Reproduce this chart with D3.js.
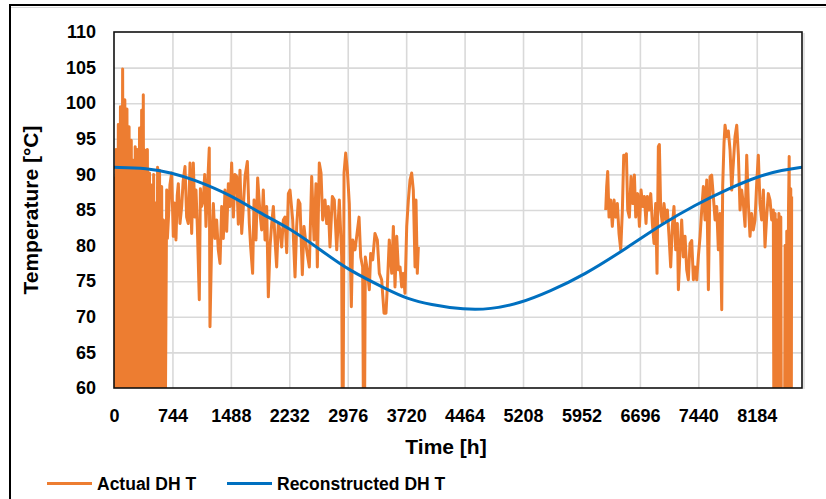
<!DOCTYPE html>
<html>
<head>
<meta charset="utf-8">
<script src="https://cdn.jsdelivr.net/npm/d3@7"></script>
<style>
  html, body { margin: 0; padding: 0; background: #fff; }
  svg { display: block; }
  text { font-family: "Liberation Sans", Arial, sans-serif; font-weight: bold; fill: #000; }
</style>
</head>
<body>
<svg id="chart" width="826" height="499"></svg>
<script>
// ---------------- DATA ----------------
const xTicks = [0, 744, 1488, 2232, 2976, 3720, 4464, 5208, 5952, 6696, 7440, 8184];
const yTicks = [60, 65, 70, 75, 80, 85, 90, 95, 100, 105, 110];
const xDomain = [0, 8760];
const yDomain = [60, 110];
const seriesNames = ["Actual DH T", "Reconstructed DH T"];

// Actual district-heating temperature [hour, °C]; values below 60 are off-scale drops, null = no data
const actualDH = [
  [0,89.7],[14,40],[28,93.5],[41,40],[55,97],[68,40],[82,99.5],[96,40],[110,104.8],[124,40],
  [138,100.5],[151,40],[165,99.2],[178,40],[192,96.7],[206,40],[220,94.8],[233,40],[246,92],[258,40],
  [270,93.9],[283,40],[297,93.5],[311,40],[325,96.5],[338,40],[352,99],[362,40],[373,101.2],[385,40],
  [398,93.4],[411,40],[425,93.5],[438,40],[452,90.2],[466,40],[480,88.5],[492,40],[505,90],[517,40],
  [530,86],[542,40],[555,91],[567,40],[580,90.6],[593,40],[607,88.3],[618,40],[630,83.6],[645,40],
  [671,87.8],[680,81],[692,83.6],[712,88.5],[734,90.2],[755,81.3],[770,86],[789,80.8],[805,87],[819,88.7],
  [840,83.1],[862,85.5],[880,89],[904,91.1],[925,84],[946,83.1],[968,91.6],[989,81.7],[1010,91.6],
  [1030,84],[1044,87.8],[1061,82.7],[1086,72.4],[1100,88],[1116,85.5],[1137,86.4],[1155,90],[1171,82.7],
  [1190,88],[1213,93.7],[1222,68.6],[1244,80.8],[1265,85.9],[1285,81],[1307,83.6],[1328,79.4],
  [1350,77.5],[1371,85.5],[1392,81],[1413,87.8],[1435,82],[1456,88.7],[1477,85.5],[1498,91.6],
  [1520,84],[1540,90],[1562,89.7],[1583,83],[1604,90.6],
  [1626,81.7],[1647,85.5],[1668,89.7],[1698,91.8],[1723,83.1],[1740,79.8],[1765,76.1],[1783,86.4],
  [1808,80.8],[1829,89.5],[1859,84.5],[1880,82.2],[1901,87.8],[1923,80.8],[1944,85.5],[1965,72.8],
  [1986,79.8],[2008,83.1],[2029,85.5],[2050,80.8],[2071,77],[2092,83.1],[2114,82.2],[2135,79.8],
  [2156,83.6],[2177,84],[2199,79],[2220,87.3],[2241,87.8],[2275,83.6],[2305,75.6],[2326,82.7],
  [2347,86.4],[2368,85.9],[2398,75.9],[2419,82.7],[2453,79.4],[2487,77],[2517,89.7],[2547,80.8],
  [2572,88.7],[2589,77],[2614,91.6],[2636,90.2],[2657,83.6],[2687,86.4],[2708,83.1],[2729,85.5],
  [2750,79.8],[2780,86.9],[2805,86.4],[2836,79.4],[2869,86.4],[2899,78.4],[2912,40],[2929,90.2],
  [2950,93],[2971,90.6],[2996,85.9],[3022,71.4],[3039,80.8],[3069,79.4],[3090,81.3],[3120,84],
  [3141,78.4],[3166,77],[3183,40],[3200,78.4],[3225,76.6],[3251,73.8],[3268,78.9],[3294,78],
  [3323,81.7],[3353,80.8],[3378,76.1],[3408,75.2],[3438,70.5],[3463,70.5],[3480,74.2],[3505,80.8],
  [3536,76.1],[3557,82.7],[3578,74.2],[3600,81.3],[3621,76.6],[3642,77],[3663,74.2],[3684,76.1],
  [3705,73.3],[3727,82.7],[3748,86.4],[3769,89.2],[3790,90.2],[3811,87.8],[3833,77],[3845,86.4],
  [3862,76.1],[3875,79.8],
  [3900,null],
  [6261,85],[6273,88.3],[6286,90.4],[6303,84],[6324,86.4],[6345,82.7],[6367,86.4],[6388,84],
  [6409,85.9],[6430,81.7],[6452,79.4],[6473,85],[6490,92.7],[6507,92.5],[6524,92.9],[6541,85],
  [6562,84],[6583,89.7],[6605,85.9],[6626,89.9],[6643,84],[6668,87.3],[6690,82.7],[6711,87.8],
  [6732,85.5],[6753,86.9],[6774,83.1],[6791,86.9],[6812,85],[6834,87.3],[6855,83.1],[6876,80.3],
  [6897,85.9],[6914,76.1],[6931,93.9],[6944,94.2],[6961,85],[6982,83.1],[7003,85.9],[7025,83.6],
  [7046,85],[7067,81.3],[7088,77],[7109,82.7],[7130,85.5],[7152,79.4],[7173,83.1],[7186,73.8],
  [7207,79.4],[7228,83.6],[7249,78.4],[7271,81.3],[7292,76.6],[7313,75.2],[7334,80.3],[7356,80.7],
  [7377,75.2],[7398,77],[7419,75.2],[7440,78.4],[7462,81.3],[7483,85],[7504,88.3],[7525,83.6],
  [7547,89.2],[7568,73.8],[7589,89.7],[7610,89.9],[7631,86.9],[7653,83.6],[7674,85.5],[7695,79.4],
  [7716,84.5],[7738,71],[7750,88.3],[7767,94.4],[7780,96.9],[7801,95.3],[7822,96.1],[7844,93.4],
  [7865,87.8],[7886,91.6],[7907,95.3],[7929,96.9],[7950,92.7],[7971,85],[7992,87.8],[8013,85.9],
  [8035,82.7],[8056,92.7],[8077,85.9],[8098,81.3],[8119,84.5],[8140,82.2],[8162,83.6],[8183,88.7],
  [8204,92.7],[8225,85.9],[8246,83.6],[8268,87.8],[8289,79.8],[8310,84],[8331,87.3],[8353,86.4],
  [8374,83.6],[8395,85],[8405,40],[8418,84.5],[8430,40],[8442,83.6],[8454,40],[8466,84.5],[8478,40],
  [8490,84],[8500,40],[8535,40],[8545,80],[8555,40],[8566,82],[8576,40],[8588,85],[8597,92.5],
  [8606,40],[8617,88],[8622,40],[8628,86.9]
];

// Reconstructed district-heating temperature [hour, °C]
const reconstructedDH = [
  [0,91.0],[420,90.9],[744,90.2],[1010,89.3],[1488,87.1],[1850,84.6],[2232,82.5],[2656,79.2],
  [2976,76.6],[3505,73.7],[3720,72.6],[4024,71.7],[4464,71.0],[4788,71.05],[5170,71.9],[5552,73.6],
  [5977,75.8],[6549,79.8],[6974,83.0],[7398,85.7],[7822,88.0],[8246,89.9],[8500,90.6],[8760,91.0]
];

// ---------------- CHART ----------------
const svg = d3.select("#chart");
const W = 826, H = 499;
const plot = { left: 114, right: 802, top: 32, bottom: 388 };
const colors = { actual: "#ED7D31", recon: "#0070C0", grid: "#D9D9D9" };

svg.append("rect").attr("width", W).attr("height", H).attr("fill", "#fff");

// outer chart frame
svg.append("line").attr("x1", 10).attr("x2", W).attr("y1", 7.5).attr("y2", 7.5)
  .attr("stroke", "#d8d8d8").attr("stroke-width", 1);
svg.append("line").attr("x1", 9).attr("x2", W).attr("y1", 5).attr("y2", 5)
  .attr("stroke", "#000").attr("stroke-width", 2);
svg.append("line").attr("x1", 10).attr("x2", 10).attr("y1", 4).attr("y2", H)
  .attr("stroke", "#000").attr("stroke-width", 2);

const x = d3.scaleLinear().domain(xDomain).range([plot.left, plot.right]);
const y = d3.scaleLinear().domain(yDomain).range([plot.bottom, plot.top]);

// gridlines
const gx = svg.append("g").attr("transform", `translate(0,${plot.bottom})`)
  .call(d3.axisBottom(x).tickValues(xTicks.slice(1)).tickSize(-(plot.bottom - plot.top)).tickFormat(""));
gx.select(".domain").remove();
gx.selectAll("line").attr("stroke", colors.grid).attr("stroke-width", 1.6);

const gy = svg.append("g").attr("transform", `translate(${plot.left},0)`)
  .call(d3.axisLeft(y).tickValues(yTicks.slice(1, -1)).tickSize(-(plot.right - plot.left)).tickFormat(""));
gy.select(".domain").remove();
gy.selectAll("line").attr("stroke", colors.grid).attr("stroke-width", 1.6);

// clip
svg.append("clipPath").attr("id", "plotclip").append("rect")
  .attr("x", plot.left).attr("y", plot.top)
  .attr("width", plot.right - plot.left).attr("height", plot.bottom - plot.top);

const lineActual = d3.line()
  .defined(d => d[1] !== null)
  .x(d => x(d[0])).y(d => y(d[1]));

svg.append("path")
  .datum(actualDH)
  .attr("clip-path", "url(#plotclip)")
  .attr("fill", "none")
  .attr("stroke", colors.actual)
  .attr("stroke-width", 3)
  .attr("stroke-linejoin", "round")
  .attr("d", lineActual);

const lineRecon = d3.line().curve(d3.curveBasis)
  .x(d => x(d[0])).y(d => y(d[1]));

svg.append("path")
  .datum(reconstructedDH)
  .attr("clip-path", "url(#plotclip)")
  .attr("fill", "none")
  .attr("stroke", colors.recon)
  .attr("stroke-width", 3)
  .attr("d", lineRecon);

// plot border
svg.append("line").attr("x1", plot.right + 2).attr("x2", plot.right + 2)
  .attr("y1", plot.top + 1).attr("y2", plot.bottom + 1)
  .attr("stroke", "#c8c8c8").attr("stroke-width", 1);
svg.append("rect")
  .attr("x", plot.left).attr("y", plot.top)
  .attr("width", plot.right - plot.left).attr("height", plot.bottom - plot.top)
  .attr("fill", "none").attr("stroke", "#111").attr("stroke-width", 1.6);

// axes labels
const ax = svg.append("g").attr("transform", `translate(0,${plot.bottom})`)
  .call(d3.axisBottom(x).tickValues(xTicks).tickSize(0).tickPadding(21).tickFormat(d3.format("d")));
ax.select(".domain").remove();
ax.selectAll("text").style("font-size", "18px").style("font-family", "'Liberation Sans', Arial, sans-serif")
  .style("font-weight", "bold").attr("fill", "#000");

const ay = svg.append("g").attr("transform", `translate(${plot.left},0)`)
  .call(d3.axisLeft(y).tickValues(yTicks).tickSize(0).tickPadding(18).tickFormat(d3.format("d")));
ay.select(".domain").remove();
ay.selectAll("text").style("font-size", "18px").style("font-family", "'Liberation Sans', Arial, sans-serif")
  .style("font-weight", "bold").attr("fill", "#000");

// axis titles
svg.append("text")
  .attr("x", 446).attr("y", 454)
  .attr("text-anchor", "middle")
  .style("font-size", "21px")
  .text("Time [h]");

svg.append("text")
  .attr("transform", "translate(38,210) rotate(-90)")
  .attr("text-anchor", "middle")
  .style("font-size", "21px")
  .text("Temperature [°C]");

// legend
const legendItems = [
  { name: seriesNames[0], color: colors.actual, x: 47 },
  { name: seriesNames[1], color: colors.recon, x: 227 }
];
const lg = svg.append("g");
legendItems.forEach(it => {
  lg.append("line").attr("x1", it.x).attr("x2", it.x + 45)
    .attr("y1", 483.5).attr("y2", 483.5)
    .attr("stroke", it.color).attr("stroke-width", 3);
  lg.append("text").attr("x", it.x + 50).attr("y", 490)
    .style("font-size", "17.5px")
    .text(it.name);
});
</script>
</body>
</html>
